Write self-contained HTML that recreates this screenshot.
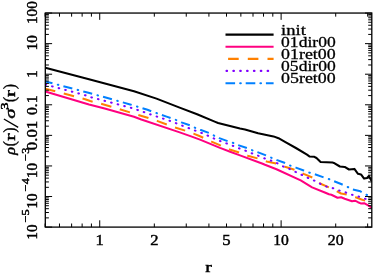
<!DOCTYPE html>
<html><head><meta charset="utf-8"><title>plot</title>
<style>html,body{margin:0;padding:0;background:#fff}body{width:374px;height:273px;overflow:hidden;font-family:"Liberation Serif",serif}svg{display:block}</style>
</head><body>
<svg width="374" height="273" viewBox="0 0 374 273" style="will-change:transform">
<rect width="374" height="273" fill="#fff"/>
<defs><clipPath id="c"><rect x="45.3" y="13.05" width="326.5" height="214.04999999999998"/></clipPath></defs>
<g clip-path="url(#c)" fill="none" stroke-linejoin="round">
<polyline points="45.3,67.7 89.0,79.2 134.0,91.2 156.5,98.6 179.0,107.4 197.1,114.3 215.3,121.9 218.1,123.0 224.0,124.6 240.0,128.6 245.0,129.4 258.1,133.2 273.5,136.4 278.5,138.2 285.0,141.9 295.9,148.0 307.0,154.7 309.4,156.4 314.4,156.8 316.5,158.0 320.6,162.0 332.6,162.6 333.8,162.9 339.9,166.5 344.7,166.9 349.0,169.5 354.4,168.9 358.0,173.8 361.0,174.4 364.1,178.6 367.1,178.0 368.9,175.9 371.3,180.4 372.5,181.0" stroke="#000" stroke-width="2.05"/>
<polyline points="45.3,91.5 89.0,104.4 104.7,108.6 134.0,116.8 141.3,119.5 179.0,132.1 191.1,136.4 200.0,139.6 220.0,147.9 230.2,151.7 240.0,155.4 262.0,163.5 265.0,164.8 276.5,169.2 300.7,180.4 312.1,187.4 324.2,192.2 329.0,194.3 331.4,194.8 337.5,197.7 341.1,197.3 344.7,198.8 352.0,201.2 355.0,200.7 358.0,202.2 360.7,203.4 364.1,203.2 367.7,205.2 371.3,207.3 372.5,208.0" stroke="#ff0080" stroke-width="2.05"/>
<polyline points="45.3,88.7 85.1,99.2 90.2,101.0 107.1,105.4 138.2,114.9 149.1,118.3 157.0,120.9 167.3,124.6 175.1,127.6 185.7,130.8 193.5,133.6 200.0,136.2 211.5,141.6 221.8,146.0 229.7,149.4 240.0,152.7 247.8,155.7 258.7,158.7 266.6,161.5 277.1,163.7 285.0,166.7 295.3,170.0 303.6,173.9 312.7,177.7 320.6,183.8 329.0,187.4 337.5,191.6 341.1,193.5 347.1,194.7 355.6,197.3 361.6,199.5 365.3,200.7 372.5,202.2" stroke="#ff8000" stroke-width="2.05" stroke-dasharray="10.6 8.8" stroke-dashoffset="0.3"/>
<polyline points="45.8,84.7 85.4,95.3 91.4,97.4 130.7,107.7 137.6,110.0 144.3,112.2 150.7,114.5 157.0,116.6 163.6,118.8 170.0,120.9 176.3,123.3 182.6,125.8 188.9,128.2 195.3,130.6 201.7,133.0 208.0,135.7 214.3,138.7 220.6,141.2 227.0,143.6 233.4,146.0 239.7,148.6 246.0,150.9 252.4,153.5 258.7,155.9 264.8,158.5 271.4,160.7 277.7,163.5 283.8,166.7 290.1,169.2 296.2,172.2 302.2,175.1 308.2,178.0 314.5,180.7 320.6,184.0 327.2,186.8 333.3,188.3 339.8,190.7 345.9,192.5 352.6,194.9 359.0,196.7 365.3,198.8 371.3,200.7" stroke="#8000ff" stroke-width="2.05" stroke-dasharray="0.6 6.2" stroke-dashoffset="0.3" stroke-linecap="round"/>
<polyline points="45.3,81.4 87.5,92.5 130.1,104.4 137.6,106.7 147.5,109.8 157.0,113.3 166.6,116.6 176.3,120.1 181.4,122.4 190.5,125.5 195.3,127.9 200.2,129.8 209.2,133.0 214.2,135.7 219.3,138.1 228.4,141.4 233.3,143.0 238.1,145.1 247.2,148.2 252.3,150.3 257.5,152.1 266.0,155.4 271.1,157.6 276.5,159.9 284.4,162.8 290.1,165.5 295.9,167.6 303.7,170.5 309.1,172.6 314.5,174.1 323.0,177.1 328.4,178.9 333.8,181.1 341.7,184.3 347.1,186.7 352.6,189.5 360.4,191.3 365.3,194.3 371.3,196.7 372.5,197.2" stroke="#0080ff" stroke-width="2.05" stroke-dasharray="9.2 11.33" stroke-dashoffset="1.8"/>
<polyline points="45.3,81.4 87.5,92.5 130.1,104.4 137.6,106.7 147.5,109.8 157.0,113.3 166.6,116.6 176.3,120.1 181.4,122.4 190.5,125.5 195.3,127.9 200.2,129.8 209.2,133.0 214.2,135.7 219.3,138.1 228.4,141.4 233.3,143.0 238.1,145.1 247.2,148.2 252.3,150.3 257.5,152.1 266.0,155.4 271.1,157.6 276.5,159.9 284.4,162.8 290.1,165.5 295.9,167.6 303.7,170.5 309.1,172.6 314.5,174.1 323.0,177.1 328.4,178.9 333.8,181.1 341.7,184.3 347.1,186.7 352.6,189.5 360.4,191.3 365.3,194.3 371.3,196.7 372.5,197.2" stroke="#0080ff" stroke-width="2.05" stroke-dasharray="0.6 19.93" stroke-dashoffset="-12.9" stroke-linecap="round"/>
</g>
<rect x="45.3" y="13.05" width="326.5" height="214.04999999999998" fill="none" stroke="#000" stroke-width="1.3"/>
<path d="M45.3 227.10h6.8M371.8 227.10h-6.8M45.3 217.89h3.6M371.8 217.89h-3.6M45.3 212.51h3.6M371.8 212.51h-3.6M45.3 208.69h3.6M371.8 208.69h-3.6M45.3 205.73h3.6M371.8 205.73h-3.6M45.3 203.31h3.6M371.8 203.31h-3.6M45.3 201.26h3.6M371.8 201.26h-3.6M45.3 199.48h3.6M371.8 199.48h-3.6M45.3 197.92h3.6M371.8 197.92h-3.6M45.3 196.52h6.8M371.8 196.52h-6.8M45.3 187.32h3.6M371.8 187.32h-3.6M45.3 181.93h3.6M371.8 181.93h-3.6M45.3 178.11h3.6M371.8 178.11h-3.6M45.3 175.15h3.6M371.8 175.15h-3.6M45.3 172.73h3.6M371.8 172.73h-3.6M45.3 170.68h3.6M371.8 170.68h-3.6M45.3 168.91h3.6M371.8 168.91h-3.6M45.3 167.34h3.6M371.8 167.34h-3.6M45.3 165.94h6.8M371.8 165.94h-6.8M45.3 156.74h3.6M371.8 156.74h-3.6M45.3 151.35h3.6M371.8 151.35h-3.6M45.3 147.53h3.6M371.8 147.53h-3.6M45.3 144.57h3.6M371.8 144.57h-3.6M45.3 142.15h3.6M371.8 142.15h-3.6M45.3 140.10h3.6M371.8 140.10h-3.6M45.3 138.33h3.6M371.8 138.33h-3.6M45.3 136.76h3.6M371.8 136.76h-3.6M45.3 135.36h6.8M371.8 135.36h-6.8M45.3 126.16h3.6M371.8 126.16h-3.6M45.3 120.77h3.6M371.8 120.77h-3.6M45.3 116.95h3.6M371.8 116.95h-3.6M45.3 113.99h3.6M371.8 113.99h-3.6M45.3 111.57h3.6M371.8 111.57h-3.6M45.3 109.52h3.6M371.8 109.52h-3.6M45.3 107.75h3.6M371.8 107.75h-3.6M45.3 106.18h3.6M371.8 106.18h-3.6M45.3 104.79h6.8M371.8 104.79h-6.8M45.3 95.58h3.6M371.8 95.58h-3.6M45.3 90.20h3.6M371.8 90.20h-3.6M45.3 86.38h3.6M371.8 86.38h-3.6M45.3 83.41h3.6M371.8 83.41h-3.6M45.3 80.99h3.6M371.8 80.99h-3.6M45.3 78.94h3.6M371.8 78.94h-3.6M45.3 77.17h3.6M371.8 77.17h-3.6M45.3 75.61h3.6M371.8 75.61h-3.6M45.3 74.21h6.8M371.8 74.21h-6.8M45.3 65.00h3.6M371.8 65.00h-3.6M45.3 59.62h3.6M371.8 59.62h-3.6M45.3 55.80h3.6M371.8 55.80h-3.6M45.3 52.83h3.6M371.8 52.83h-3.6M45.3 50.41h3.6M371.8 50.41h-3.6M45.3 48.37h3.6M371.8 48.37h-3.6M45.3 46.59h3.6M371.8 46.59h-3.6M45.3 45.03h3.6M371.8 45.03h-3.6M45.3 43.63h6.8M371.8 43.63h-6.8M45.3 34.42h3.6M371.8 34.42h-3.6M45.3 29.04h3.6M371.8 29.04h-3.6M45.3 25.22h3.6M371.8 25.22h-3.6M45.3 22.26h3.6M371.8 22.26h-3.6M45.3 19.83h3.6M371.8 19.83h-3.6M45.3 17.79h3.6M371.8 17.79h-3.6M45.3 16.01h3.6M371.8 16.01h-3.6M45.3 14.45h3.6M371.8 14.45h-3.6M45.3 13.05h6.8M371.8 13.05h-6.8M45.11 227.1v-3.6M45.11 13.05v3.6M59.48 227.1v-3.6M59.48 13.05v3.6M71.62 227.1v-3.6M71.62 13.05v3.6M82.14 227.1v-3.6M82.14 13.05v3.6M91.42 227.1v-3.6M91.42 13.05v3.6M99.72 227.1v-6.8M99.72 13.05v6.8M154.32 227.1v-3.6M154.32 13.05v3.6M186.26 227.1v-3.6M186.26 13.05v3.6M208.92 227.1v-3.6M208.92 13.05v3.6M226.50 227.1v-3.6M226.50 13.05v3.6M240.86 227.1v-3.6M240.86 13.05v3.6M253.01 227.1v-3.6M253.01 13.05v3.6M263.53 227.1v-3.6M263.53 13.05v3.6M272.81 227.1v-3.6M272.81 13.05v3.6M281.11 227.1v-6.8M281.11 13.05v6.8M335.71 227.1v-3.6M335.71 13.05v3.6M367.65 227.1v-3.6M367.65 13.05v3.6" stroke="#000" stroke-width="1" fill="none"/>
<text x="99.7" y="244.8" font-size="15" text-anchor="middle" font-family="Liberation Serif, serif" stroke="#000" stroke-width="0.45" textLength="8.3" lengthAdjust="spacingAndGlyphs">1</text>
<text x="154.3" y="244.8" font-size="15" text-anchor="middle" font-family="Liberation Serif, serif" stroke="#000" stroke-width="0.45" textLength="8.3" lengthAdjust="spacingAndGlyphs">2</text>
<text x="226.5" y="244.8" font-size="15" text-anchor="middle" font-family="Liberation Serif, serif" stroke="#000" stroke-width="0.45" textLength="8.3" lengthAdjust="spacingAndGlyphs">5</text>
<text x="281.1" y="244.8" font-size="15" text-anchor="middle" font-family="Liberation Serif, serif" stroke="#000" stroke-width="0.45" textLength="15.6" lengthAdjust="spacingAndGlyphs">10</text>
<text x="335.7" y="244.8" font-size="15" text-anchor="middle" font-family="Liberation Serif, serif" stroke="#000" stroke-width="0.45" textLength="15.8" lengthAdjust="spacingAndGlyphs">20</text>
<text x="208.6" y="271.5" font-size="15" text-anchor="middle" font-family="Liberation Serif, serif" stroke="#000" stroke-width="0.45" textLength="6.6" lengthAdjust="spacingAndGlyphs">r</text>
<g fill="none" stroke-width="2.1">
<path d="M225.5 34.6H273.6" stroke="#000"/>
<path d="M225.5 46.8H273.6" stroke="#ff0080"/>
<path d="M225.5 58.9H273.6" stroke="#ff8000" stroke-dasharray="10.6 9.1" stroke-dashoffset="-2.6"/>
<path d="M226.5 70.9H270" stroke="#8000ff" stroke-dasharray="0.6 6.25" stroke-linecap="round"/>
<path d="M225.5 83.2H273.6" stroke="#0080ff" stroke-dasharray="9.6 10.6"/>
<path d="M225.5 83.2H273.6" stroke="#0080ff" stroke-dasharray="0.6 19.6" stroke-dashoffset="-14.7" stroke-linecap="round"/>
</g>
<text x="281.1" y="34.800000000000004" font-size="15" text-anchor="start" font-family="Liberation Serif, serif" stroke="#000" stroke-width="0.3" textLength="24.8" lengthAdjust="spacingAndGlyphs">init</text>
<text x="281.1" y="47.0" font-size="15" text-anchor="start" font-family="Liberation Serif, serif" stroke="#000" stroke-width="0.3" textLength="54.6" lengthAdjust="spacingAndGlyphs">01dir00</text>
<text x="281.1" y="59.1" font-size="15" text-anchor="start" font-family="Liberation Serif, serif" stroke="#000" stroke-width="0.3" textLength="54.6" lengthAdjust="spacingAndGlyphs">01ret00</text>
<text x="281.1" y="71.10000000000001" font-size="15" text-anchor="start" font-family="Liberation Serif, serif" stroke="#000" stroke-width="0.3" textLength="54.6" lengthAdjust="spacingAndGlyphs">05dir00</text>
<text x="281.1" y="83.4" font-size="15" text-anchor="start" font-family="Liberation Serif, serif" stroke="#000" stroke-width="0.3" textLength="54.6" lengthAdjust="spacingAndGlyphs">05ret00</text>
<g transform="translate(37.2 12.6) rotate(-90)"><text x="0" y="0" font-size="15" text-anchor="middle" font-family="Liberation Serif, serif" stroke="#000" stroke-width="0.45" textLength="22.7" lengthAdjust="spacingAndGlyphs">100</text></g>
<g transform="translate(37.2 42.7) rotate(-90)"><text x="0" y="0" font-size="15" text-anchor="middle" font-family="Liberation Serif, serif" stroke="#000" stroke-width="0.45" textLength="15" lengthAdjust="spacingAndGlyphs">10</text></g>
<g transform="translate(37.2 74.1) rotate(-90)"><text x="0" y="0" font-size="15" text-anchor="middle" font-family="Liberation Serif, serif" stroke="#000" stroke-width="0.45">1</text></g>
<g transform="translate(37.2 105.3) rotate(-90)"><text x="0" y="0" font-size="15" text-anchor="middle" font-family="Liberation Serif, serif" stroke="#000" stroke-width="0.45" textLength="19.6" lengthAdjust="spacingAndGlyphs">0.1</text></g>
<g transform="translate(37.2 135.5) rotate(-90)"><text x="0" y="0" font-size="15" text-anchor="middle" font-family="Liberation Serif, serif" stroke="#000" stroke-width="0.45" textLength="29.4" lengthAdjust="spacingAndGlyphs">0.01</text></g>
<g transform="translate(37.2 177.9) rotate(-90)"><text x="0" y="0" font-size="15" text-anchor="start" font-family="Liberation Serif, serif" stroke="#000" stroke-width="0.45" textLength="15" lengthAdjust="spacingAndGlyphs">10</text><text x="17.2" y="-8.0" font-size="10.5" text-anchor="start" font-family="Liberation Serif, serif" stroke="#000" stroke-width="0.45" textLength="13" lengthAdjust="spacingAndGlyphs">−3</text></g>
<g transform="translate(37.2 208.4) rotate(-90)"><text x="0" y="0" font-size="15" text-anchor="start" font-family="Liberation Serif, serif" stroke="#000" stroke-width="0.45" textLength="15" lengthAdjust="spacingAndGlyphs">10</text><text x="17.2" y="-8.0" font-size="10.5" text-anchor="start" font-family="Liberation Serif, serif" stroke="#000" stroke-width="0.45" textLength="13" lengthAdjust="spacingAndGlyphs">−4</text></g>
<g transform="translate(37.2 239.5) rotate(-90)"><text x="0" y="0" font-size="15" text-anchor="start" font-family="Liberation Serif, serif" stroke="#000" stroke-width="0.45" textLength="15" lengthAdjust="spacingAndGlyphs">10</text><text x="17.2" y="-8.0" font-size="10.5" text-anchor="start" font-family="Liberation Serif, serif" stroke="#000" stroke-width="0.45" textLength="13" lengthAdjust="spacingAndGlyphs">−5</text></g>
<g transform="translate(15.3 154.8) rotate(-90)"><text x="0" y="0" font-size="15" text-anchor="start" font-family="Liberation Serif, serif" stroke="#000" stroke-width="0.45" textLength="7.7" lengthAdjust="spacingAndGlyphs" font-style="italic">ρ</text><text x="8.5" y="-0.2" font-size="16.2" text-anchor="start" font-family="Liberation Serif, serif" stroke="#000" stroke-width="0.45" textLength="4.9" lengthAdjust="spacingAndGlyphs">(</text><text x="14.1" y="0" font-size="15" text-anchor="start" font-family="Liberation Serif, serif" stroke="#000" stroke-width="0.45" textLength="7.4" lengthAdjust="spacingAndGlyphs">r</text><text x="22.2" y="-0.2" font-size="16.2" text-anchor="start" font-family="Liberation Serif, serif" stroke="#000" stroke-width="0.45" textLength="4.9" lengthAdjust="spacingAndGlyphs">)</text><path d="M27.4 2.9L35.8 -11.4" stroke="#000" stroke-width="1.3" fill="none"/><text x="36.0" y="0" font-size="15" text-anchor="start" font-family="Liberation Serif, serif" stroke="#000" stroke-width="0.45" textLength="10.3" lengthAdjust="spacingAndGlyphs" font-style="italic">σ</text><text x="45.1" y="-7.6" font-size="10" text-anchor="start" font-family="Liberation Serif, serif" stroke="#000" stroke-width="0.45" textLength="7.2" lengthAdjust="spacingAndGlyphs">3</text><text x="52.8" y="-0.2" font-size="16.2" text-anchor="start" font-family="Liberation Serif, serif" stroke="#000" stroke-width="0.45" textLength="4.9" lengthAdjust="spacingAndGlyphs">(</text><text x="57.7" y="0" font-size="15" text-anchor="start" font-family="Liberation Serif, serif" stroke="#000" stroke-width="0.45" textLength="7.0" lengthAdjust="spacingAndGlyphs">r</text><text x="65.8" y="-0.2" font-size="16.2" text-anchor="start" font-family="Liberation Serif, serif" stroke="#000" stroke-width="0.45" textLength="4.9" lengthAdjust="spacingAndGlyphs">)</text></g>
</svg>
</body></html>
